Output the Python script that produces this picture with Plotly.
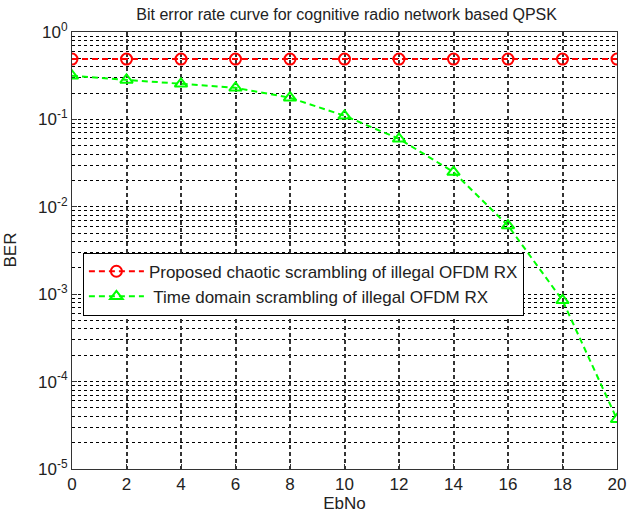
import plotly.graph_objects as go

ebno = [0, 2, 4, 6, 8, 10, 12, 14, 16, 18, 20]
ber_proposed = [0.49, 0.49, 0.49, 0.49, 0.49, 0.49, 0.49, 0.49, 0.49, 0.49, 0.49]
ber_time = [0.315, 0.283, 0.255, 0.23, 0.177, 0.11, 0.06, 0.025, 0.0061, 0.00085, 0.000037]

x_ticks = list(range(0, 21, 2))
y_ticks = [1e-5, 1e-4, 1e-3, 1e-2, 1e-1, 1]
y_ticktext = ["10<sup>-5</sup>", "10<sup>-4</sup>", "10<sup>-3</sup>", "10<sup>-2</sup>", "10<sup>-1</sup>", "10<sup>0</sup>"]
y_minor = [m * 10 ** e for e in range(-5, 0) for m in range(2, 10)]

FONT = "Arial, Liberation Sans"
grid_dash = "3px,3px"

fig = go.Figure()
fig.add_trace(go.Scatter(
    x=ebno, y=ber_proposed, mode="lines+markers",
    name="Proposed chaotic scrambling of illegal OFDM RX",
    line=dict(color="#ff0000", width=2, dash="6px,4px"),
    marker=dict(symbol="circle-open", size=11, color="#ff0000", line=dict(width=2)),
))
fig.add_trace(go.Scatter(
    x=ebno, y=ber_time, mode="lines+markers",
    name=" Time domain scrambling of illegal OFDM RX",
    line=dict(color="#00ff00", width=2, dash="6px,4px"),
    marker=dict(symbol="triangle-up-open", size=11, color="#00ff00", line=dict(width=2)),
))

axis_common = dict(
    showline=True, linecolor="#333333", linewidth=1, mirror=True,
    ticks="inside", ticklen=5, tickcolor="#333333",
    zeroline=False,
    tickfont=dict(family=FONT, size=17, color="#222222"),
)

fig.update_layout(
    width=636, height=519,
    margin=dict(l=72, r=10, t=32, b=49),
    paper_bgcolor="white", plot_bgcolor="white",
    title=dict(text="Bit error rate curve for cognitive radio network based QPSK",
               x=0.545, xanchor="center", y=0.973, yanchor="middle",
               font=dict(family=FONT, size=16, color="#222222")),
    xaxis=dict(range=[0, 20], tickvals=x_ticks,
               showgrid=True, gridcolor="#333333", griddash="4px,3px", gridwidth=1.5,
               title=dict(text="EbNo", standoff=3,
                          font=dict(family=FONT, size=17, color="#222222")),
               **axis_common),
    yaxis=dict(type="log", range=[-5, 0], tickvals=y_ticks, ticktext=y_ticktext,
               showgrid=True, gridcolor="black", griddash=grid_dash, gridwidth=1,
               minor=dict(tickvals=y_minor, showgrid=True, gridcolor="black",
                          griddash=grid_dash, gridwidth=1, ticks=""),
               **axis_common),
    annotations=[dict(text="BER", xref="paper", yref="paper", x=0, y=0.5,
                      xshift=-62, textangle=-90, showarrow=False,
                      xanchor="center", yanchor="middle",
                      font=dict(family=FONT, size=17, color="#222222"))],
    legend=dict(x=0.02, y=0.495, xanchor="left", yanchor="top",
                bgcolor="white", bordercolor="black", borderwidth=1,
                itemwidth=55, tracegroupgap=0,
                font=dict(family=FONT, size=17, color="#222222")),
    showlegend=True,
)

fig.write_html("out.html")
